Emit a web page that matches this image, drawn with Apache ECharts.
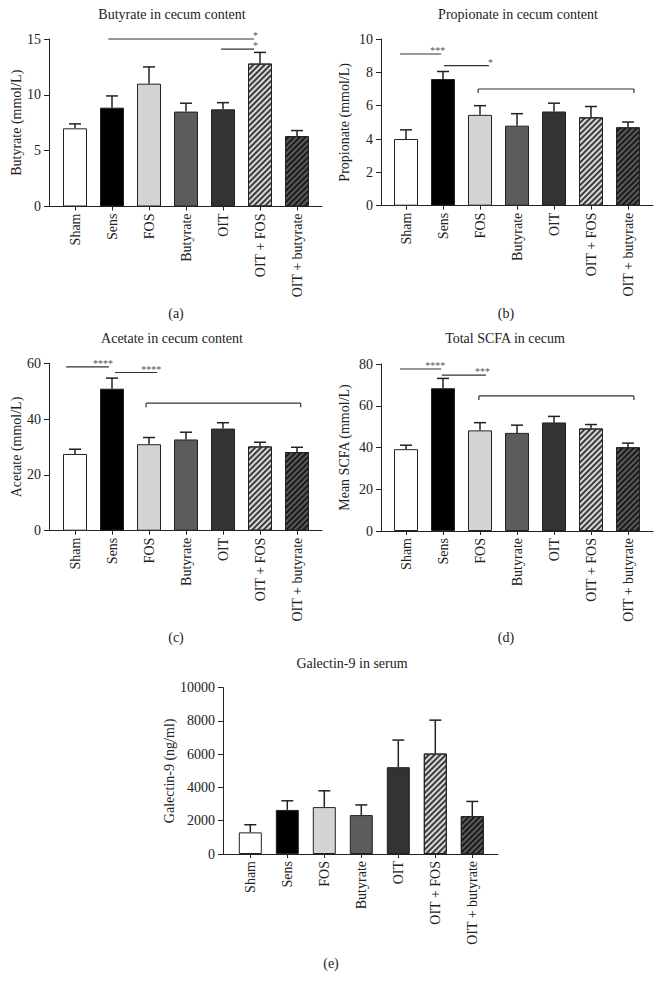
<!DOCTYPE html>
<html>
<head>
<meta charset="utf-8">
<script src="https://cdn.jsdelivr.net/npm/echarts@6/dist/echarts.min.js"></script>
<style>
html,body{margin:0;padding:0;background:#fff;}
#c{width:662px;height:987px;}
</style>
</head>
<body>
<div id="c"></div>
<script>
// ---------------- DATA ----------------
const categories = ['Sham', 'Sens', 'FOS', 'Butyrate', 'OIT', 'OIT + FOS', 'OIT + butyrate'];

const butyrateMean = [7.0, 8.85, 11.0, 8.5, 8.7, 12.8, 6.3];
const butyrateErr  = [0.4, 1.05, 1.5, 0.75, 0.6, 1.0, 0.5];
const butyrateTicks = [0, 5, 10, 15];
// [x from (category units), x to, y level, asterisks, end ticks]
const butyrateSig = [[0.9, 4.84, 15.0, '*', 0], [3.95, 4.84, 14.1, '*', 0]];

const propionateMean = [4.0, 7.6, 5.45, 4.8, 5.65, 5.3, 4.7];
const propionateErr  = [0.55, 0.45, 0.55, 0.72, 0.5, 0.65, 0.32];
const propionateTicks = [0, 2, 4, 6, 8, 10];
const propionateSig = [[-0.16, 0.95, 9.1, '***', 0], [1.03, 2.24, 8.4, '*', 0], [1.95, 6.16, 7.0, '', 1]];

const acetateMean = [27.5, 50.9, 31.0, 32.7, 36.6, 30.2, 28.2];
const acetateErr  = [1.7, 3.8, 2.4, 2.6, 2.1, 1.5, 1.7];
const acetateTicks = [0, 20, 40, 60];
const acetateSig = [[-0.24, 0.92, 58.7, '****', 0], [1.08, 2.22, 56.7, '****', 0], [1.92, 6.1, 45.7, '', 1]];

const scfaMean = [39.2, 68.4, 48.2, 47.0, 52.0, 49.1, 40.1];
const scfaErr  = [1.9, 4.7, 3.7, 3.7, 2.9, 1.9, 2.0];
const scfaTicks = [0, 20, 40, 60, 80];
const scfaSig = [[-0.16, 0.95, 77.6, '****', 0], [0.97, 2.16, 74.7, '***', 0], [1.97, 6.16, 64.7, '', 1]];

const galectinMean = [1300, 2650, 2820, 2340, 5220, 6040, 2280];
const galectinErr  = [460, 550, 980, 610, 1630, 2010, 880];
const galectinTicks = [0, 2000, 4000, 6000, 8000, 10000];
const galectinSig = [];

// ---------------- STYLE / LAYOUT ----------------
const FONT = '"Liberation Serif", "DejaVu Serif", serif';
const INK = '#222';
const hatchBase = { symbol: 'rect', symbolSize: 1, dashArrayX: [1, 0], dashArrayY: [1.3, 1.9], rotation: -Math.PI / 4 };
const barStyles = [
  { color: '#ffffff' },
  { color: '#000000' },
  { color: '#d4d4d4' },
  { color: '#5c5c5c' },
  { color: '#333333' },
  { color: '#d8d8d8', decal: Object.assign({ color: '#3c3c3c' }, hatchBase) },
  { color: '#5a5a5a', decal: Object.assign({ color: '#1a1a1a' }, hatchBase) }
];

const panels = [
  { title: 'Butyrate in cecum content', yName: 'Butyrate (mmol/L)', letter: '(a)',
    mean: butyrateMean, err: butyrateErr, ticks: butyrateTicks, sig: butyrateSig,
    axisX: 49, right: 322, bandLeft: 56.5, top: 39, bottom: 206.5, barW: 24,
    titleX: 172, titleY: 14, letterX: 176, letterY: 313, nameGap: 26 },
  { title: 'Propionate in cecum content', yName: 'Propionate (mmol/L)', letter: '(b)',
    mean: propionateMean, err: propionateErr, ticks: propionateTicks, sig: propionateSig,
    axisX: 381, right: 653, bandLeft: 387.5, top: 39, bottom: 205.7, barW: 24,
    titleX: 518, titleY: 14, letterX: 506, letterY: 313, nameGap: 30 },
  { title: 'Acetate in cecum content', yName: 'Acetate (mmol/L)', letter: '(c)',
    mean: acetateMean, err: acetateErr, ticks: acetateTicks, sig: acetateSig,
    axisX: 49, right: 322, bandLeft: 56.5, top: 363.3, bottom: 530.7, barW: 24,
    titleX: 172, titleY: 338, letterX: 176, letterY: 637, nameGap: 26 },
  { title: 'Total SCFA in cecum', yName: 'Mean SCFA (mmol/L)', letter: '(d)',
    mean: scfaMean, err: scfaErr, ticks: scfaTicks, sig: scfaSig,
    axisX: 381, right: 653, bandLeft: 387.5, top: 364, bottom: 531, barW: 24,
    titleX: 505, titleY: 338, letterX: 506, letterY: 637, nameGap: 30 },
  { title: 'Galectin-9 in serum', yName: 'Galectin-9 (ng/ml)', letter: '(e)',
    mean: galectinMean, err: galectinErr, ticks: galectinTicks, sig: galectinSig,
    axisX: 223, right: 498, bandLeft: 231.8, top: 687.7, bottom: 854, barW: 23,
    titleX: 352, titleY: 663, letterX: 331, letterY: 963, nameGap: 31 }
];

function errRender(params, api) {
  const i = api.value(0), v = api.value(1), e = api.value(2);
  const p0 = api.coord([i, v]);
  const p1 = api.coord([i, v + e]);
  return {
    type: 'group',
    children: [
      { type: 'line', shape: { x1: p0[0], y1: p0[1], x2: p1[0], y2: p1[1] }, style: { stroke: INK, lineWidth: 1.5 } },
      { type: 'line', shape: { x1: p1[0] - 6, y1: p1[1], x2: p1[0] + 6, y2: p1[1] }, style: { stroke: INK, lineWidth: 1.5 } }
    ]
  };
}

function sigRender(sigArr) {
  return function (params, api) {
    const s = sigArr[params.dataIndex];
    const c0 = api.coord([0, s[2]]);
    const band = api.size([1, 0])[0];
    const x1 = c0[0] + s[0] * band, x2 = c0[0] + s[1] * band, y = c0[1];
    const children = [
      { type: 'line', shape: { x1: x1, y1: y, x2: x2, y2: y }, style: { stroke: '#333', lineWidth: 1.2 } }
    ];
    if (s[4]) {
      children.push({ type: 'line', shape: { x1: x1, y1: y, x2: x1, y2: y + 4 }, style: { stroke: '#333', lineWidth: 1.2 } });
      children.push({ type: 'line', shape: { x1: x2, y1: y, x2: x2, y2: y + 4 }, style: { stroke: '#333', lineWidth: 1.2 } });
    }
    if (s[3]) {
      children.push({ type: 'text', x: x2 + 4, y: y - 3.5, style: {
        text: s[3], x: 0, y: 0,
        textAlign: 'right', textVerticalAlign: 'middle',
        font: '10px ' + FONT, fill: '#555', textFill: '#555'
      } });
    }
    return { type: 'group', children: children };
  };
}

const grid = [], xAxis = [], yAxis = [], series = [], graphic = [];
panels.forEach(function (p) {
  const fi = grid.length;
  const h = p.bottom - p.top;
  const tMin = p.ticks[0], tMax = p.ticks[p.ticks.length - 1], tInt = p.ticks[1] - p.ticks[0];
  grid.push({ left: p.axisX, top: p.top, width: p.right - p.axisX, height: h });
  grid.push({ left: p.bandLeft, top: p.top, width: 7 * 37, height: h });

  // frame axes
  xAxis.push({ gridIndex: fi, type: 'value', min: 0, max: 1,
    axisLine: { show: true, onZero: false, lineStyle: { color: INK, width: 1 } },
    axisTick: { show: false }, axisLabel: { show: false }, splitLine: { show: false } });
  yAxis.push({ gridIndex: fi, type: 'value', min: tMin, max: tMax, interval: tInt,
    name: p.yName, nameLocation: 'middle', nameGap: p.nameGap,
    nameTextStyle: { fontFamily: FONT, fontSize: 14, color: INK },
    axisLine: { show: true, lineStyle: { color: INK, width: 1 } },
    axisTick: { show: true, length: 5, lineStyle: { color: INK, width: 1 } },
    axisLabel: { margin: 8, fontFamily: FONT, fontSize: 14, color: INK,
      formatter: function (v) { return String(v); } },
    splitLine: { show: false } });

  // bar axes
  xAxis.push({ gridIndex: fi + 1, type: 'category', data: categories,
    axisLine: { show: false },
    axisTick: { show: true, alignWithLabel: true, length: 4, lineStyle: { color: INK, width: 1 } },
    axisLabel: { rotate: 90, margin: 7, interval: 0, fontFamily: FONT, fontSize: 14, color: INK } });
  yAxis.push({ gridIndex: fi + 1, type: 'value', min: tMin, max: tMax, interval: tInt, show: false });
  const xi = xAxis.length - 1, yi = yAxis.length - 1;

  series.push({ type: 'bar', xAxisIndex: xi, yAxisIndex: yi, barWidth: p.barW, silent: true,
    data: p.mean.map(function (v, i) {
      return { value: v, itemStyle: Object.assign({ borderColor: INK, borderWidth: 1 }, barStyles[i]) };
    }) });
  series.push({ type: 'custom', xAxisIndex: xi, yAxisIndex: yi, z: 3, clip: false, silent: true,
    data: p.mean.map(function (v, i) { return [i, v, p.err[i]]; }), renderItem: errRender });
  if (p.sig.length) {
    series.push({ type: 'custom', xAxisIndex: xi, yAxisIndex: yi, z: 4, clip: false, silent: true,
      itemStyle: { color: '#555' },
      data: p.sig.map(function (s) { return [0, s[2]]; }), renderItem: sigRender(p.sig) });
  }

  graphic.push({ type: 'text', x: p.titleX, y: p.titleY, silent: true,
    style: { text: p.title, x: 0, y: 0, textAlign: 'center', textVerticalAlign: 'middle',
      font: '14px ' + FONT, fill: INK } });
  graphic.push({ type: 'text', x: p.letterX, y: p.letterY, silent: true,
    style: { text: p.letter, x: 0, y: 0, textAlign: 'center', textVerticalAlign: 'middle',
      font: '14px ' + FONT, fill: INK } });
});

const chart = echarts.init(document.getElementById('c'), null, { renderer: 'svg', width: 662, height: 987 });
chart.setOption({
  animation: false,
  backgroundColor: '#ffffff',
  grid: grid, xAxis: xAxis, yAxis: yAxis, series: series, graphic: graphic
});
</script>
</body>
</html>
